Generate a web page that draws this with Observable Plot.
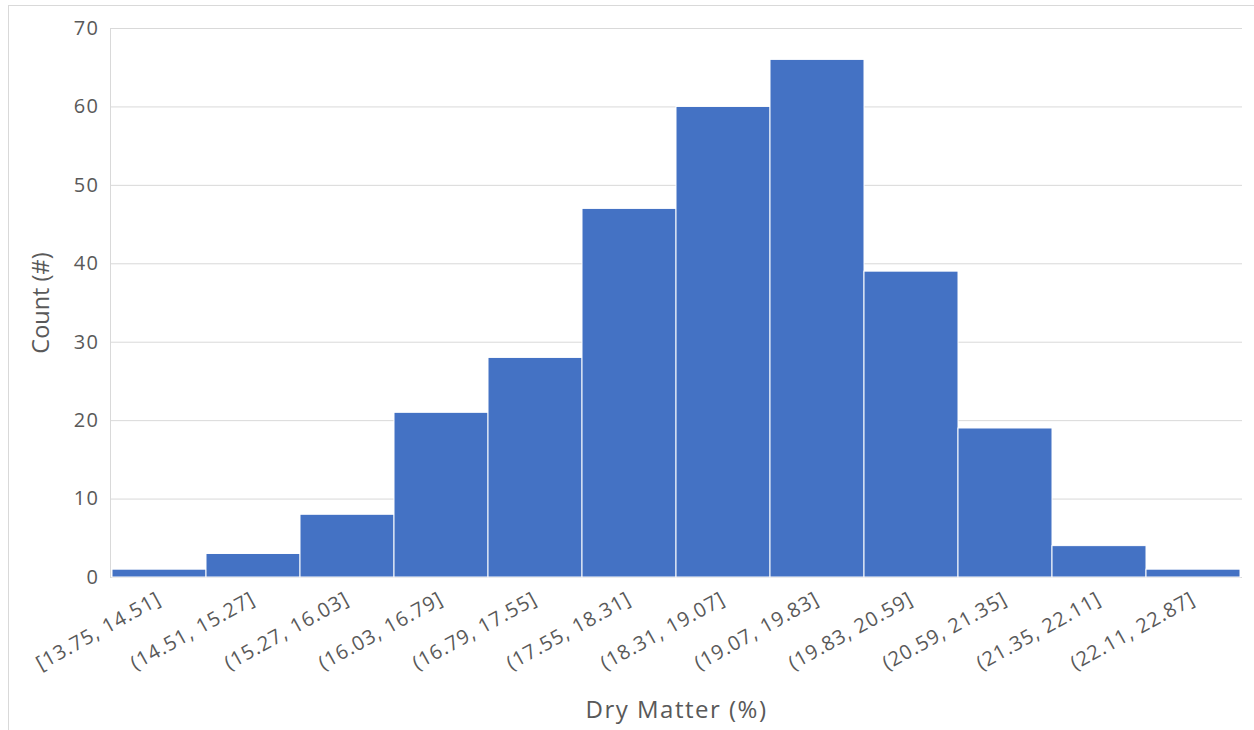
<!DOCTYPE html>
<html>
<head>
<meta charset="utf-8">
<script src="https://cdn.jsdelivr.net/npm/d3@7"></script>
<script src="https://cdn.jsdelivr.net/npm/@observablehq/plot@0.6"></script>
<style>
  html, body { margin: 0; padding: 0; background: #fff; }
  #wrap { position: relative; width: 1254px; height: 730px; overflow: hidden; }
  #border { position: absolute; left: 8px; top: 5px; width: 1260px; height: 740px; border: 1px solid #d9d9d9; box-sizing: border-box; }
  #chart { position: absolute; left: 0; top: 0; }
</style>
</head>
<body>
<div id="wrap"><div id="border"></div><div id="chart"></div></div>
<script>
const bins = ["[13.75, 14.51]", "(14.51, 15.27]", "(15.27, 16.03]", "(16.03, 16.79]", "(16.79, 17.55]", "(17.55, 18.31]", "(18.31, 19.07]", "(19.07, 19.83]", "(19.83, 20.59]", "(20.59, 21.35]", "(21.35, 22.11]", "(22.11, 22.87]"];
const counts = [1, 3, 8, 21, 28, 47, 60, 66, 39, 19, 4, 1];
const yTicks = [0, 10, 20, 30, 40, 50, 60, 70];

const data = bins.map((b, i) => ({bin: b, count: counts[i]}));

const chart = Plot.plot({
  width: 1254,
  height: 730,
  marginLeft: 110,
  marginRight: 12,
  marginTop: 28,
  marginBottom: 153,
  style: {fontFamily: "'Open Sans', 'Noto Sans', sans-serif", color: "#595959", background: "transparent"},
  x: {type: "band", domain: bins, padding: 0},
  y: {domain: [0, 70]},
  marks: [
    Plot.ruleY(yTicks, {stroke: "#d9d9d9", strokeWidth: 1}),
    Plot.frame({anchor: "left", stroke: "#d9d9d9"}),
    Plot.barY(data, {x: "bin", y: "count", fill: "#4472C4", stroke: "#ffffff", strokeWidth: 1, inset: 0}),
    Plot.axisY({ticks: yTicks, tickSize: 0, tickPadding: 11, fontSize: 20, label: "Count (#)", labelAnchor: "center", labelArrow: "none", labelOffset: 78}),
    Plot.axisX({tickSize: 0, tickPadding: 20, tickRotate: -29, fontSize: 20, label: "Dry Matter (%)", labelAnchor: "center", labelArrow: "none", labelOffset: 140})
  ]
});
chart.querySelectorAll("[aria-label='y-axis tick label'] text").forEach(t => { t.setAttribute("font-size", 20); t.setAttribute("letter-spacing", "1.5"); });
chart.querySelectorAll("[aria-label='x-axis tick label'] text").forEach(t => { t.setAttribute("font-size", 20); t.setAttribute("letter-spacing", "1.0"); });
chart.querySelectorAll("[aria-label='y-axis label'] text").forEach(t => { t.setAttribute("font-size", 23.5); });
chart.querySelectorAll("[aria-label='x-axis label'] text").forEach(t => { t.setAttribute("font-size", 24); t.setAttribute("letter-spacing", "1.5"); });
document.getElementById("chart").appendChild(chart);
</script>
</body>
</html>
